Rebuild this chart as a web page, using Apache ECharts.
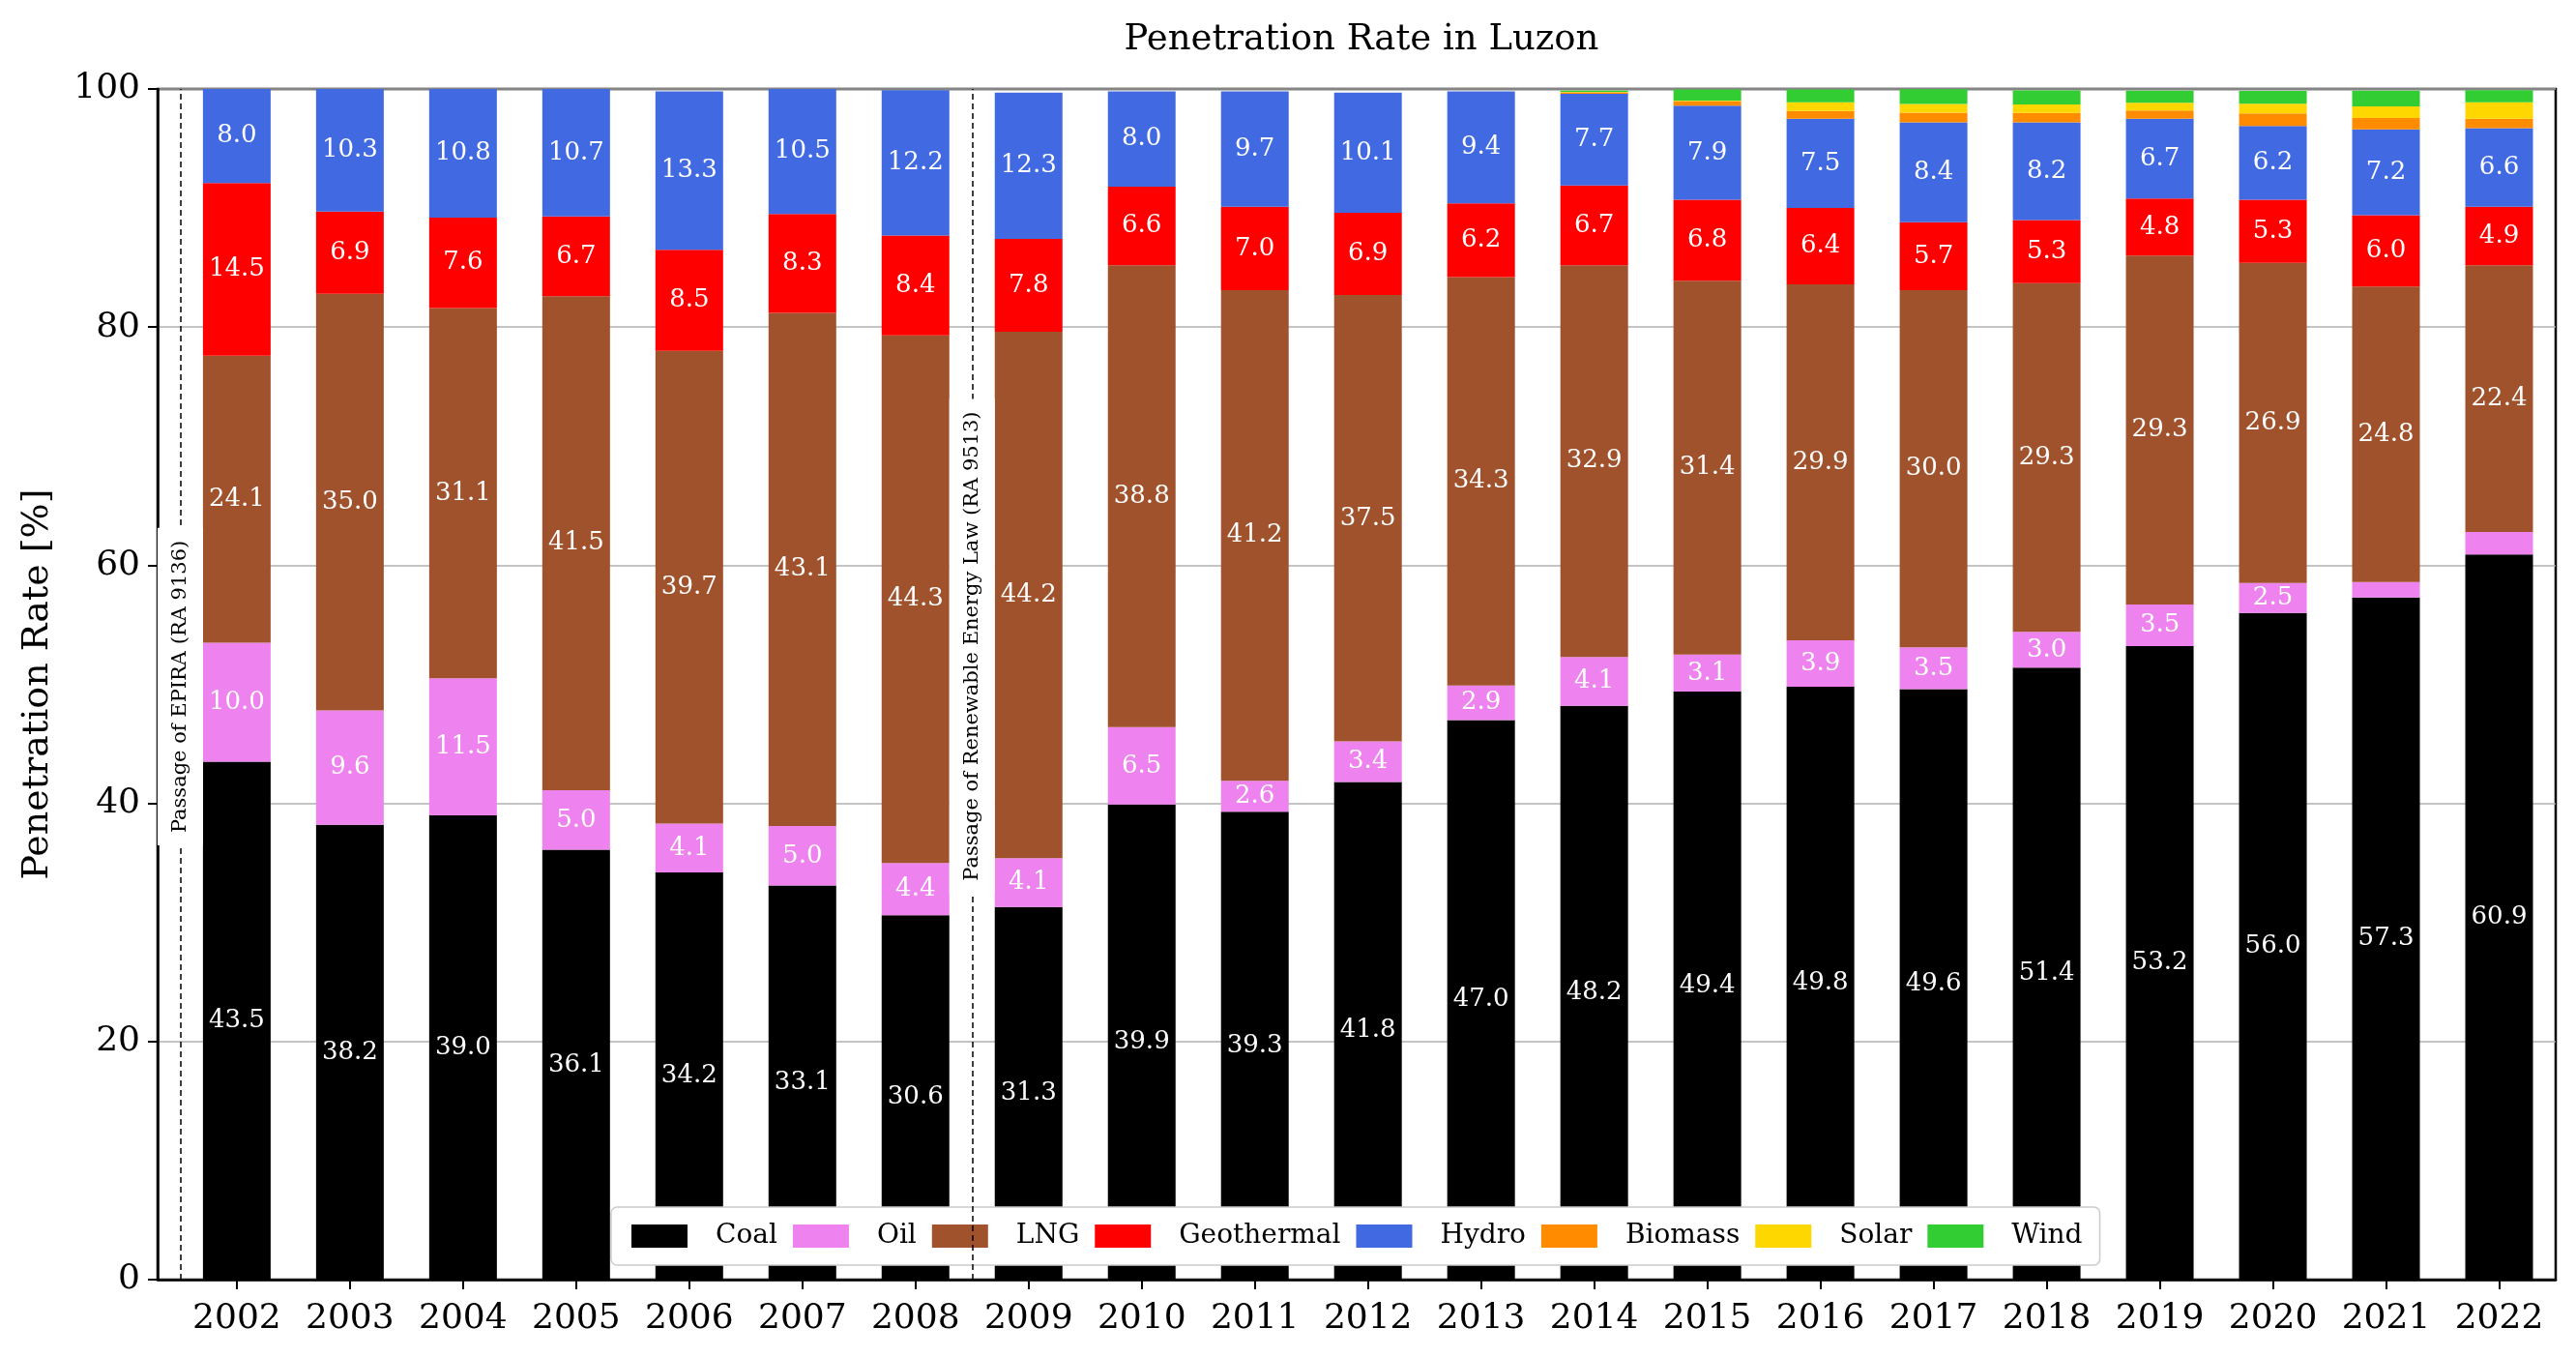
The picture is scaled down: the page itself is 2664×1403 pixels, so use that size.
<!DOCTYPE html>
<html>
<head>
<meta charset="utf-8">
<script src="https://cdn.jsdelivr.net/npm/echarts@6/dist/echarts.min.js"></script>
<style>
html,body{margin:0;padding:0;background:#fff;}
#chart{width:2664px;height:1403px;}
</style>
</head>
<body>
<div id="chart"></div>
<script>
const years = ['2002','2003','2004','2005','2006','2007','2008','2009','2010','2011','2012','2013','2014','2015','2016','2017','2018','2019','2020','2021','2022'];
const coal = [43.5,38.2,39.0,36.1,34.2,33.1,30.6,31.3,39.9,39.3,41.8,47.0,48.2,49.4,49.8,49.6,51.4,53.2,56.0,57.3,60.9];
const oil = [10.0,9.6,11.5,5.0,4.1,5.0,4.4,4.1,6.5,2.6,3.4,2.9,4.1,3.1,3.9,3.5,3.0,3.5,2.5,1.3,1.9];
const lng = [24.1,35.0,31.1,41.5,39.7,43.1,44.3,44.2,38.8,41.2,37.5,34.3,32.9,31.4,29.9,30.0,29.3,29.3,26.9,24.8,22.4];
const geothermal = [14.5,6.9,7.6,6.7,8.5,8.3,8.4,7.8,6.6,7.0,6.9,6.2,6.7,6.8,6.4,5.7,5.3,4.8,5.3,6.0,4.9];
const hydro = [8.0,10.3,10.8,10.7,13.3,10.5,12.2,12.3,8.0,9.7,10.1,9.4,7.7,7.9,7.5,8.4,8.2,6.7,6.2,7.2,6.6];
const biomass = [0,0,0,0,0,0,0,0,0,0,0,0,0.12,0.38,0.65,0.81,0.78,0.70,1.05,0.97,0.81];
const solar = [0,0,0,0,0,0,0,0,0,0,0,0,0.03,0.05,0.73,0.73,0.73,0.65,0.81,0.97,1.38];
const wind = [0,0,0,0,0,0,0,0,0,0,0,0,0.1,0.92,1.08,1.24,1.16,1.0,1.08,1.32,1.0];

const seriesNames = ['Coal','Oil','LNG','Geothermal','Hydro','Biomass','Solar','Wind'];
const seriesValues = [coal, oil, lng, geothermal, hydro, biomass, solar, wind];
const seriesColors = ['#000000','#EE82EE','#A0522D','#FF0000','#4169E1','#FF8C00','#FFD700','#32CD32'];

const eventX = [-0.5, 6.5];
const eventLabelY = [49.8, 53.2];
const eventText = ['Passage of EPIRA (RA 9136)', 'Passage of Renewable Energy Law (RA 9513)'];

const FONT = 'DejaVu Serif';
const chart = echarts.init(document.getElementById('chart'), null, {renderer: 'canvas'});

const series = seriesNames.map((name, s) => {
  const obj = {
    name: name,
    type: 'bar',
    stack: 'total',
    barWidth: 70,
    // value first so that the stacked dimension is the y value
    data: seriesValues[s].map((v, i) => [v, i]),
    encode: {x: 1, y: 0},
    itemStyle: {color: seriesColors[s]},
    label: {
      show: true,
      position: 'inside',
      color: '#ffffff',
      fontFamily: FONT,
      fontSize: 26,
      formatter: p => (p.value[0] >= 2 ? p.value[0].toFixed(1) : '')
    },
    emphasis: {disabled: true}
  };
  if (s === seriesNames.length - 1) {
    obj.markLine = {
      silent: true,
      symbol: 'none',
      z: 5,
      label: {show: false},
      lineStyle: {color: '#000', type: [6, 4], width: 1.5},
      data: eventX.map(x => ({xAxis: x}))
    };
    obj.markPoint = {
      silent: true,
      z: 6,
      symbol: 'rect',
      symbolSize: 0,
      data: eventX.map((x, k) => ({
        coord: [x, eventLabelY[k]],
        label: {
          show: true,
          position: 'inside',
          rotate: 90,
          formatter: eventText[k],
          color: '#000',
          fontFamily: FONT,
          fontSize: 21,
          backgroundColor: '#ffffff',
          padding: [13, 13]
        }
      }))
    };
  }
  return obj;
});

chart.setOption({
  animation: false,
  backgroundColor: '#ffffff',
  textStyle: {fontFamily: FONT},
  title: {
    text: 'Penetration Rate in Luzon',
    left: 1403,
    textAlign: 'center',
    top: 18,
    textStyle: {fontFamily: FONT, fontSize: 37, fontWeight: 'normal', color: '#000'}
  },
  grid: {
    left: 163, right: 21, top: 92, bottom: 80,
    show: true, borderColor: '#000', borderWidth: 2.5, backgroundColor: 'transparent'
  },
  legend: {
    data: seriesNames,
    left: 632,
    top: 1248,
    orient: 'horizontal',
    icon: 'rect',
    itemWidth: 58,
    itemHeight: 24,
    itemGap: 16,
    padding: [16, 18, 16, 21],
    backgroundColor: '#ffffff',
    borderColor: '#cccccc',
    borderWidth: 1.5,
    borderRadius: 6,
    selectedMode: false,
    textStyle: {fontFamily: FONT, fontSize: 28, color: '#000', padding: [0, 0, 0, 24]}
  },
  xAxis: {
    type: 'value',
    min: -0.7,
    max: 20.5,
    splitLine: {show: false},
    axisLine: {show: true, onZero: false, lineStyle: {color: '#000', width: 2.5}},
    axisTick: {show: true, customValues: years.map((y, i) => i), length: 10, lineStyle: {color: '#000', width: 2}},
    axisLabel: {
      customValues: years.map((y, i) => i),
      formatter: v => years[Math.round(v)],
      fontFamily: FONT, fontSize: 36, color: '#000', margin: 23
    }
  },
  yAxis: {
    type: 'value',
    min: 0, max: 100, interval: 20,
    name: 'Penetration Rate [%]',
    nameLocation: 'middle',
    nameGap: 105,
    nameTextStyle: {fontFamily: FONT, fontSize: 38, color: '#000'},
    axisLine: {show: true, onZero: false, lineStyle: {color: '#000', width: 2.5}},
    axisTick: {show: true, length: 10, lineStyle: {color: '#000', width: 2}},
    axisLabel: {fontFamily: FONT, fontSize: 36, color: '#000', margin: 18},
    splitLine: {show: true, lineStyle: {color: '#b0b0b0', width: 1.5}}
  },
  series: series
});
</script>
</body>
</html>
